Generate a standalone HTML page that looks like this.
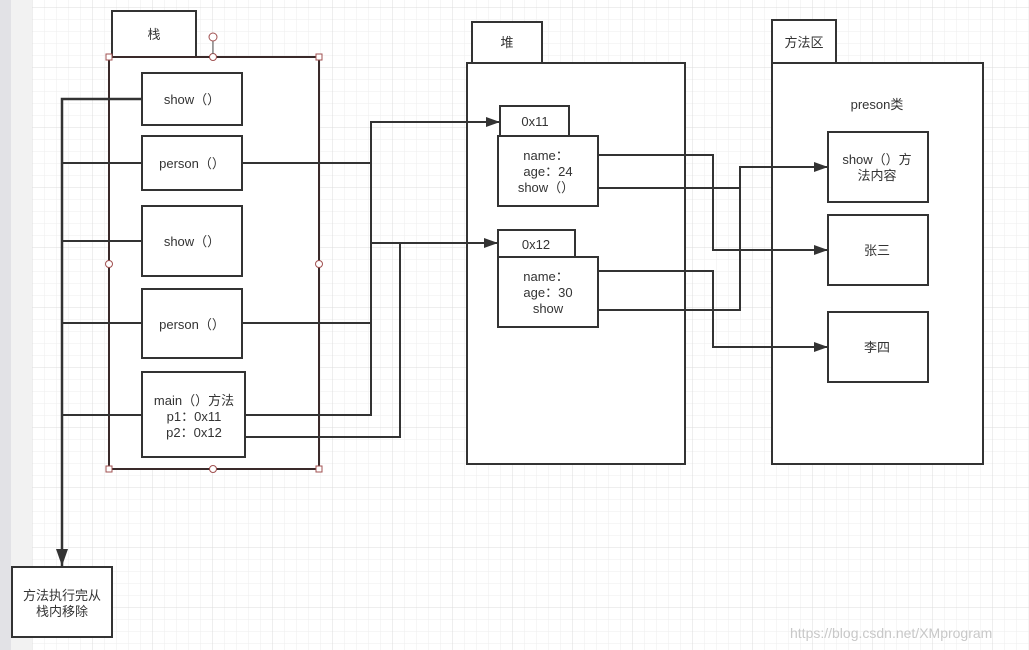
<!DOCTYPE html>
<html><head><meta charset="utf-8"><style>
html,body{margin:0;padding:0;width:1029px;height:650px;overflow:hidden;background:#fff}
text{font-family:"Liberation Sans","Noto Sans CJK SC",sans-serif;font-size:13px;fill:#333}
</style></head><body>
<svg width="1029" height="650" xmlns="http://www.w3.org/2000/svg">
<defs>
<pattern id="minor" width="12" height="12" patternUnits="userSpaceOnUse" x="32" y="7">
<path d="M0 0H12M0 0V12" stroke="#eeeeee" stroke-width="1" fill="none"/></pattern>
<pattern id="major" width="60" height="60" patternUnits="userSpaceOnUse" x="32" y="7">
<path d="M0 0H60M0 0V60" stroke="#dcdcdc" stroke-width="1" fill="none"/></pattern>
<marker id="ar" markerWidth="14" markerHeight="10" refX="14" refY="5" orient="auto" markerUnits="userSpaceOnUse">
<path d="M0 0L14 5L0 10z" fill="#333"/></marker>
<marker id="ar2" markerWidth="18" markerHeight="12" refX="17" refY="6" orient="auto" markerUnits="userSpaceOnUse">
<path d="M0 0L17 6L0 12z" fill="#333"/></marker>
</defs>
<rect x="32" y="0" width="997" height="650" fill="url(#minor)"/>
<rect x="32" y="0" width="997" height="650" fill="url(#major)"/>
<rect x="0" y="0" width="11" height="650" fill="#e2e2e6"/>
<rect x="11" y="0" width="21" height="650" fill="#f2f2f2"/>
<g stroke="#333" stroke-width="2" fill="#fff">
<rect x="112" y="11" width="84" height="46"/>
<rect x="109" y="57" width="210" height="412" stroke="#3a2a2a"/>
<rect x="142" y="73" width="100" height="52"/>
<rect x="142" y="136" width="100" height="54"/>
<rect x="142" y="206" width="100" height="70"/>
<rect x="142" y="289" width="100" height="69"/>
<rect x="142" y="372" width="103" height="85"/>
<rect x="12" y="567" width="100" height="70"/>
<rect x="472" y="22" width="70" height="41"/>
<rect x="467" y="63" width="218" height="401"/>
<rect x="500" y="106" width="69" height="30"/>
<rect x="498" y="136" width="100" height="70"/>
<rect x="498" y="230" width="77" height="27"/>
<rect x="498" y="257" width="100" height="70"/>
<rect x="772" y="20" width="64" height="43"/>
<rect x="772" y="63" width="211" height="401"/>
<rect x="828" y="132" width="100" height="70"/>
<rect x="828" y="215" width="100" height="70"/>
<rect x="828" y="312" width="100" height="70"/>
</g>
<g stroke="#333" stroke-width="2" fill="none">
<path d="M142 99H62V566" stroke-width="2.5" marker-end="url(#ar2)"/>
<path d="M142 163H62M142 241H62M142 323H62M142 415H62"/>
<path d="M242 163H371V243H498" marker-end="url(#ar)"/>
<path d="M242 323H371"/>
<path d="M245 415H371V122H500" marker-end="url(#ar)"/>
<path d="M245 437H400V243"/>
<path d="M598 155H713V250H828" marker-end="url(#ar)"/>
<path d="M598 188H740V167H828" marker-end="url(#ar)"/>
<path d="M598 271H713V347H828" marker-end="url(#ar)"/>
<path d="M598 310H740V188"/>
</g>
<g fill="#fff" stroke="#a05050" stroke-width="1">
<rect x="106" y="54" width="6" height="6"/><rect x="316" y="54" width="6" height="6"/>
<rect x="106" y="466" width="6" height="6"/><rect x="316" y="466" width="6" height="6"/>
<circle cx="213" cy="57" r="3.5"/><circle cx="213" cy="469" r="3.5"/>
<circle cx="109" cy="264" r="3.5"/><circle cx="319" cy="264" r="3.5"/>
<line x1="213" y1="41" x2="213" y2="54" stroke="#555"/>
<circle cx="213" cy="37" r="4"/>
</g>
<g text-anchor="middle">
<text x="154" y="39">栈</text>
<text x="192" y="104">show（）</text>
<text x="192" y="168">person（）</text>
<text x="192" y="246">show（）</text>
<text x="192" y="329">person（）</text>
<text x="194" y="405">main（）方法</text>
<text x="194" y="421">p1：0x11</text>
<text x="194" y="437">p2：0x12</text>
<text x="62" y="600">方法执行完从</text>
<text x="62" y="616">栈内移除</text>
<text x="507" y="47">堆</text>
<text x="535" y="126">0x11</text>
<text x="546" y="160">name：</text>
<text x="548" y="176">age：24</text>
<text x="546" y="192">show（）</text>
<text x="536" y="249">0x12</text>
<text x="546" y="281">name：</text>
<text x="548" y="297">age：30</text>
<text x="548" y="313">show</text>
<text x="804" y="47">方法区</text>
<text x="877" y="109">preson类</text>
<text x="877" y="164">show（）方</text>
<text x="877" y="180">法内容</text>
<text x="877" y="255">张三</text>
<text x="877" y="352">李四</text>
</g>
<text x="790" y="638" style="fill:#c8c8c8;font-size:14px">https://blog.csdn.net/XMprogram</text>
</svg>
</body></html>
